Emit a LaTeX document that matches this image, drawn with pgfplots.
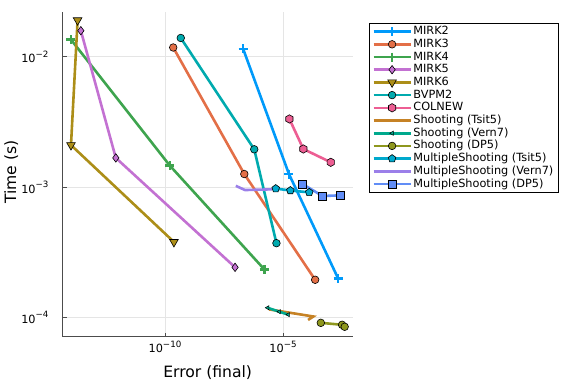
\documentclass[border=0pt]{standalone}
\usepackage{fontspec}
\setmainfont{DejaVu Sans}
\usepackage{pgfplots}
\pgfplotsset{compat=1.18}
\usetikzlibrary{plotmarks}

\definecolor{c1}{HTML}{009AFA}
\definecolor{c2}{HTML}{E36F47}
\definecolor{c3}{HTML}{3EA44E}
\definecolor{c4}{HTML}{C371D2}
\definecolor{c5}{HTML}{AC8E18}
\definecolor{c6}{HTML}{00AAAE}
\definecolor{c7}{HTML}{ED5E93}
\definecolor{c8}{HTML}{C68225}
\definecolor{c9}{HTML}{00A98D}
\definecolor{c10}{HTML}{8E971E}
\definecolor{c11}{HTML}{00A9CD}
\definecolor{c12}{HTML}{9B7FE9}
\definecolor{c13}{HTML}{618DF6}

\newcommand{\tl}[1]{10\raisebox{5.5pt}{\fontsize{8.7}{9}\selectfont −#1}}

\pgfdeclareplotmark{hexagon*}{%
  \pgfpathmoveto{\pgfqpointpolar{30}{\pgfplotmarksize}}%
  \pgfpathlineto{\pgfqpointpolar{90}{\pgfplotmarksize}}%
  \pgfpathlineto{\pgfqpointpolar{150}{\pgfplotmarksize}}%
  \pgfpathlineto{\pgfqpointpolar{210}{\pgfplotmarksize}}%
  \pgfpathlineto{\pgfqpointpolar{270}{\pgfplotmarksize}}%
  \pgfpathlineto{\pgfqpointpolar{330}{\pgfplotmarksize}}%
  \pgfpathclose
  \pgfusepathqfillstroke}

\begin{document}
\begin{tikzpicture}[x=1pt,y=1pt]
\useasboundingbox (0,0) rectangle (576,384);
\begin{axis}[
  at={(62.7pt,47.3pt)}, anchor=south west,
  scale only axis, width=290pt, height=325pt,
  xmode=log, ymode=log,
  xmin=4.68e-15, xmax=8.9e-3, ymin=7.14e-5, ymax=2.21e-2,
  axis lines=left,
  axis line style={-, draw=black!70, line width=0.9pt},
  tick style={draw=black!70, line width=0.8pt},
  major tick length=4pt, tick align=inside,
  xminorticks=false, yminorticks=false,
  grid=major, major grid style={draw=black!10, line width=0.6pt},
  xtick={1e-10,1e-5}, xticklabels={\tl{10},\tl{5}},
  ytick={1e-4,1e-3,1e-2}, yticklabels={\tl{4},\tl{3},\tl{2}},
  ticklabel style={font=\fontsize{11.3}{13}\selectfont},
  xticklabel style={anchor=north, inner sep=0pt, yshift=-4pt},
  yticklabel style={anchor=east, inner sep=0pt, xshift=-14pt},
  xlabel={Error (final)}, ylabel={Time (s)},
  label style={font=\fontsize{15.6}{18}\selectfont},
  xlabel style={at={(axis description cs:0.5,-0.124)}, anchor=base},
  ylabel style={at={(axis description cs:-0.161,0.507)}, anchor=base},
  legend cell align=left,
  legend style={at={(1.056,0.966)}, anchor=north west, draw=black, line width=0.7pt,
    font=\fontsize{11.3}{13}\selectfont, inner xsep=3pt, inner ysep=3pt,
    row sep=1.7pt, nodes={inner xsep=1.5pt, inner ysep=0pt, text height=8.5pt, text depth=2.5pt}},
  legend image code/.code={\draw[mark repeat=2,mark phase=2] plot coordinates {(0pt,0pt) (18.5pt,0pt) (37pt,0pt)};},
  every axis plot/.append style={line width=2.6pt},
]
\addplot[c1, mark=+, mark size=4.5pt, mark options={line width=2.4pt}] coordinates {(2.04e-7,1.148e-2) (1.78e-5,1.26e-3) (2.14e-3,2.0e-4)};
\addlegendentry{MIRK2}
\addplot[c2, mark=*, mark size=3.8pt, mark options={fill=c2, draw=black, line width=0.6pt}] coordinates {(2.24e-10,1.175e-2) (2.29e-7,1.26e-3) (2.29e-4,1.95e-4)};
\addlegendentry{MIRK3}
\addplot[c3, mark=+, mark size=4.5pt, mark options={line width=2.4pt}] coordinates {(1.05e-14,1.35e-2) (1.62e-10,1.46e-3) (1.62e-6,2.34e-4)};
\addlegendentry{MIRK4}
\addplot[c4, mark=diamond*, mark size=4.2pt, mark options={fill=c4, draw=black, line width=0.6pt}] coordinates {(2.75e-14,1.58e-2) (8.3e-13,1.675e-3) (9.3e-8,2.43e-4)};
\addlegendentry{MIRK5}
\addplot[c5, mark=triangle*, mark size=5pt, mark options={rotate=180, fill=c5, draw=black, line width=0.6pt}] coordinates {(2.0e-14,1.9e-2) (1.05e-14,2.1e-3) (2.4e-10,3.8e-4)};
\addlegendentry{MIRK6}
\addplot[c6, mark=*, mark size=3.8pt, mark options={fill=c6, draw=black, line width=0.6pt}] coordinates {(4.68e-10,1.39e-2) (6.03e-7,1.95e-3) (5.25e-6,3.72e-4)};
\addlegendentry{BVPM2}
\addplot[c7, mark=hexagon*, mark size=4.2pt, mark options={fill=c7, draw=black, line width=0.6pt}] coordinates {(1.86e-5,3.33e-3) (7.24e-5,1.96e-3) (1.05e-3,1.55e-3)};
\addlegendentry{COLNEW}
\addplot[c8] coordinates {(2.55e-6,1.156e-4) (1.92e-4,1.02e-4) (1.15e-4,9.6e-5)};
\addlegendentry{Shooting (Tsit5)}
\addplot[c9, mark=triangle*, mark size=2.4pt, mark options={rotate=90, fill=c9, draw=black, line width=0.5pt}] coordinates {(2.24e-6,1.19e-4) (6.9e-6,1.11e-4) (1.66e-5,1.054e-4)};
\addlegendentry{Shooting (Vern7)}
\addplot[c10, mark=*, mark size=3.8pt, mark options={fill=c10, draw=black, line width=0.6pt}] coordinates {(3.98e-4,9.12e-5) (3.16e-3,8.81e-5) (4.07e-3,8.51e-5)};
\addlegendentry{Shooting (DP5)}
\addplot[c11, mark=pentagon*, mark size=4pt, mark options={fill=c11, draw=black, line width=0.6pt}] coordinates {(4.9e-6,9.75e-4) (2.04e-5,9.42e-4) (1.29e-4,9.12e-4)};
\addlegendentry{MultipleShooting (Tsit5)}
\addplot[c12] coordinates {(1.0e-7,1.023e-3) (2.45e-7,9.5e-4) (3.39e-6,9.62e-4)};
\addlegendentry{MultipleShooting (Vern7)}
\addplot[c13, mark=square*, mark size=3.9pt, mark options={fill=c13, draw=black, line width=0.6pt}] coordinates {(6.6e-5,1.057e-3) (4.68e-4,8.55e-4) (2.69e-3,8.65e-4)};
\addlegendentry{MultipleShooting (DP5)}
\end{axis}
\end{tikzpicture}
\end{document}
